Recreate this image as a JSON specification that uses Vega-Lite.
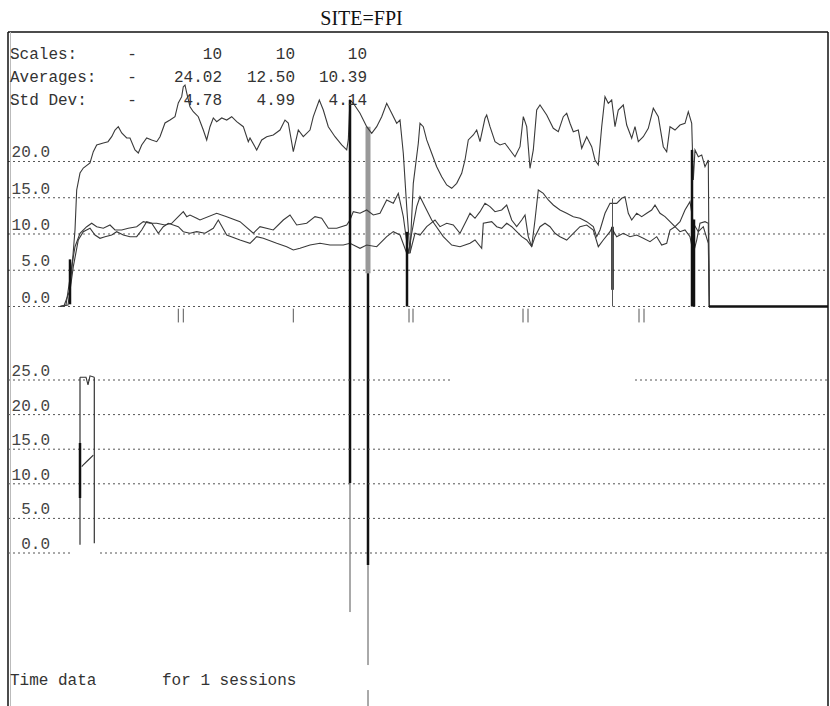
{
  "$schema": "https://vega.github.io/schema/vega-lite/v6.json",
  "width": 820,
  "height": 674,
  "autosize": {"type": "none"},
  "padding": {"left": 8, "top": 32, "right": 2, "bottom": 0},
  "background": "white",
  "config": {"view": {"stroke": null}},
  "datasets": {
    "traces": [
      {"series": "A", "t": 52, "v": 0}, {"series": "A", "t": 56, "v": 0.1}, {"series": "A", "t": 62, "v": 2.28}, {"series": "A", "t": 65, "v": 7.1}, {"series": "A", "t": 67, "v": 10.55}, {"series": "A", "t": 68.7, "v": 16.07}, {"series": "A", "t": 72, "v": 18.41}, {"series": "A", "t": 75.3, "v": 19.1}, {"series": "A", "t": 82, "v": 19.79}, {"series": "A", "t": 85.3, "v": 21.35}, {"series": "A", "t": 88.7, "v": 22.28}, {"series": "A", "t": 95.3, "v": 22.55}, {"series": "A", "t": 100, "v": 22.73}, {"series": "A", "t": 103.7, "v": 23.42}, {"series": "A", "t": 107, "v": 24.34}, {"series": "A", "t": 110.3, "v": 24.8}, {"series": "A", "t": 113.7, "v": 23.93}, {"series": "A", "t": 118.7, "v": 23.24}, {"series": "A", "t": 122, "v": 23.24}, {"series": "A", "t": 127, "v": 21.59}, {"series": "A", "t": 130.3, "v": 21.17}, {"series": "A", "t": 133.7, "v": 22.28}, {"series": "A", "t": 138.7, "v": 23.24}, {"series": "A", "t": 143.7, "v": 22.97}, {"series": "A", "t": 148.7, "v": 22.73}, {"series": "A", "t": 152, "v": 23.42}, {"series": "A", "t": 157, "v": 25.31}, {"series": "A", "t": 162, "v": 25.72}, {"series": "A", "t": 167, "v": 26.18}, {"series": "A", "t": 170.3, "v": 28.07}, {"series": "A", "t": 173.7, "v": 28.94}, {"series": "A", "t": 175.3, "v": 30.32}, {"series": "A", "t": 177, "v": 30.55}, {"series": "A", "t": 178.7, "v": 29.45}, {"series": "A", "t": 182, "v": 27.56}, {"series": "A", "t": 185.3, "v": 26.87}, {"series": "A", "t": 190.3, "v": 26.18}, {"series": "A", "t": 195.3, "v": 24.34}, {"series": "A", "t": 198.7, "v": 22.97}, {"series": "A", "t": 202, "v": 24.8}, {"series": "A", "t": 205.3, "v": 26.0}, {"series": "A", "t": 208.7, "v": 25.49}, {"series": "A", "t": 213.7, "v": 26.0}, {"series": "A", "t": 218.7, "v": 25.72}, {"series": "A", "t": 223.7, "v": 26.18}, {"series": "A", "t": 228.7, "v": 25.49}, {"series": "A", "t": 235.3, "v": 24.8}, {"series": "A", "t": 240.3, "v": 22.73}, {"series": "A", "t": 242, "v": 23.24}, {"series": "A", "t": 248.7, "v": 21.59}, {"series": "A", "t": 253.7, "v": 22.97}, {"series": "A", "t": 258.7, "v": 23.42}, {"series": "A", "t": 265.3, "v": 23.66}, {"series": "A", "t": 272, "v": 24.34}, {"series": "A", "t": 277, "v": 25.72}, {"series": "A", "t": 280.3, "v": 25.31}, {"series": "A", "t": 285.3, "v": 21.35}, {"series": "A", "t": 290.3, "v": 24.34}, {"series": "A", "t": 295.3, "v": 23.42}, {"series": "A", "t": 302, "v": 24.34}, {"series": "A", "t": 305.3, "v": 26.18}, {"series": "A", "t": 311.3, "v": 28.48}, {"series": "A", "t": 315.3, "v": 27.1}, {"series": "A", "t": 320.3, "v": 24.8}, {"series": "A", "t": 327, "v": 23.42}, {"series": "A", "t": 333.7, "v": 22.28}, {"series": "A", "t": 338.7, "v": 21.59}, {"series": "A", "t": 340.3, "v": 22.97}, {"series": "A", "t": 342, "v": 28.48}, {"series": "A", "t": 345.3, "v": 28.03}, {"series": "A", "t": 352, "v": 26.65}, {"series": "A", "t": 358.7, "v": 24.8}, {"series": "A", "t": 363.7, "v": 23.89}, {"series": "A", "t": 368.7, "v": 24.8}, {"series": "A", "t": 373.7, "v": 26.18}, {"series": "A", "t": 378.7, "v": 28.03}, {"series": "A", "t": 383.7, "v": 26.65}, {"series": "A", "t": 388.7, "v": 25.27}, {"series": "A", "t": 392, "v": 25.72}, {"series": "A", "t": 395.3, "v": 21.13}, {"series": "A", "t": 398.7, "v": 13.77}, {"series": "A", "t": 402, "v": 7.38}, {"series": "A", "t": 405.3, "v": 16.99}, {"series": "A", "t": 410.3, "v": 22.51}, {"series": "A", "t": 412, "v": 25.27}, {"series": "A", "t": 415.3, "v": 24.8}, {"series": "A", "t": 418.7, "v": 22.97}, {"series": "A", "t": 423.7, "v": 21.13}, {"series": "A", "t": 428.7, "v": 19.28}, {"series": "A", "t": 433.7, "v": 17.9}, {"series": "A", "t": 438.7, "v": 16.76}, {"series": "A", "t": 443.7, "v": 16.3}, {"series": "A", "t": 448.7, "v": 16.99}, {"series": "A", "t": 453.7, "v": 18.37}, {"series": "A", "t": 457, "v": 20.21}, {"series": "A", "t": 460.3, "v": 22.97}, {"series": "A", "t": 465.3, "v": 23.66}, {"series": "A", "t": 468.7, "v": 24.34}, {"series": "A", "t": 472, "v": 22.73}, {"series": "A", "t": 477, "v": 25.96}, {"series": "A", "t": 478.7, "v": 26.41}, {"series": "A", "t": 482, "v": 24.8}, {"series": "A", "t": 487, "v": 22.73}, {"series": "A", "t": 492, "v": 22.28}, {"series": "A", "t": 497, "v": 22.51}, {"series": "A", "t": 502, "v": 21.59}, {"series": "A", "t": 507, "v": 20.66}, {"series": "A", "t": 512, "v": 22.04}, {"series": "A", "t": 515.3, "v": 26.18}, {"series": "A", "t": 518.7, "v": 24.8}, {"series": "A", "t": 522, "v": 19.06}, {"series": "A", "t": 525.3, "v": 21.59}, {"series": "A", "t": 528.7, "v": 27.1}, {"series": "A", "t": 532, "v": 27.79}, {"series": "A", "t": 538.7, "v": 26.41}, {"series": "A", "t": 545.3, "v": 24.58}, {"series": "A", "t": 550.3, "v": 24.11}, {"series": "A", "t": 555.3, "v": 26.18}, {"series": "A", "t": 558.7, "v": 26.65}, {"series": "A", "t": 562, "v": 25.27}, {"series": "A", "t": 565.3, "v": 24.11}, {"series": "A", "t": 570.3, "v": 24.34}, {"series": "A", "t": 573.7, "v": 21.82}, {"series": "A", "t": 578.7, "v": 23.42}, {"series": "A", "t": 583.7, "v": 22.04}, {"series": "A", "t": 587, "v": 20.21}, {"series": "A", "t": 590.3, "v": 19.52}, {"series": "A", "t": 593.7, "v": 24.8}, {"series": "A", "t": 597, "v": 28.94}, {"series": "A", "t": 600.3, "v": 28.03}, {"series": "A", "t": 603.7, "v": 28.48}, {"series": "A", "t": 607, "v": 24.8}, {"series": "A", "t": 610.3, "v": 27.1}, {"series": "A", "t": 615.3, "v": 27.79}, {"series": "A", "t": 618.7, "v": 25.03}, {"series": "A", "t": 623.7, "v": 23.2}, {"series": "A", "t": 627, "v": 24.8}, {"series": "A", "t": 630.3, "v": 22.73}, {"series": "A", "t": 635.3, "v": 23.42}, {"series": "A", "t": 640.3, "v": 24.58}, {"series": "A", "t": 645.3, "v": 27.34}, {"series": "A", "t": 650.3, "v": 26.18}, {"series": "A", "t": 655.3, "v": 22.04}, {"series": "A", "t": 658.7, "v": 21.35}, {"series": "A", "t": 662, "v": 24.8}, {"series": "A", "t": 667, "v": 24.34}, {"series": "A", "t": 672, "v": 25.03}, {"series": "A", "t": 677, "v": 25.27}, {"series": "A", "t": 680.3, "v": 26.87}, {"series": "A", "t": 683.7, "v": 25.27}, {"series": "A", "t": 685.3, "v": 17.45}, {"series": "A", "t": 687, "v": 21.59}, {"series": "A", "t": 690.3, "v": 20.66}, {"series": "A", "t": 693.7, "v": 20.9}, {"series": "A", "t": 697, "v": 19.28}, {"series": "A", "t": 700.3, "v": 20.21}, {"series": "A", "t": 701.3, "v": 0},
      {"series": "B", "t": 52, "v": 0}, {"series": "B", "t": 58, "v": 0.2}, {"series": "B", "t": 63.7, "v": 5.49}, {"series": "B", "t": 67, "v": 8.25}, {"series": "B", "t": 72, "v": 10.1}, {"series": "B", "t": 78.7, "v": 11.01}, {"series": "B", "t": 83.7, "v": 11.48}, {"series": "B", "t": 88.7, "v": 11.01}, {"series": "B", "t": 95.3, "v": 10.79}, {"series": "B", "t": 102, "v": 11.24}, {"series": "B", "t": 107, "v": 10.55}, {"series": "B", "t": 113.7, "v": 10.55}, {"series": "B", "t": 120.3, "v": 10.79}, {"series": "B", "t": 128.7, "v": 11.01}, {"series": "B", "t": 135.3, "v": 11.7}, {"series": "B", "t": 142, "v": 11.48}, {"series": "B", "t": 148.7, "v": 11.48}, {"series": "B", "t": 157, "v": 11.24}, {"series": "B", "t": 163.7, "v": 11.48}, {"series": "B", "t": 170.3, "v": 12.39}, {"series": "B", "t": 175.3, "v": 13.08}, {"series": "B", "t": 178.7, "v": 12.39}, {"series": "B", "t": 182, "v": 12.62}, {"series": "B", "t": 188.7, "v": 12.17}, {"series": "B", "t": 192, "v": 11.93}, {"series": "B", "t": 208.7, "v": 12.86}, {"series": "B", "t": 218.7, "v": 12.39}, {"series": "B", "t": 232, "v": 11.7}, {"series": "B", "t": 245.3, "v": 10.1}, {"series": "B", "t": 252, "v": 11.01}, {"series": "B", "t": 265.3, "v": 10.55}, {"series": "B", "t": 275.3, "v": 11.93}, {"series": "B", "t": 282, "v": 12.62}, {"series": "B", "t": 288.7, "v": 11.24}, {"series": "B", "t": 298.7, "v": 11.48}, {"series": "B", "t": 307, "v": 12.39}, {"series": "B", "t": 313.7, "v": 12.17}, {"series": "B", "t": 320.3, "v": 10.79}, {"series": "B", "t": 328.7, "v": 10.79}, {"series": "B", "t": 338.7, "v": 11.24}, {"series": "B", "t": 342, "v": 11.93}, {"series": "B", "t": 345.3, "v": 13.08}, {"series": "B", "t": 352, "v": 12.86}, {"series": "B", "t": 358.7, "v": 13.31}, {"series": "B", "t": 365.3, "v": 12.62}, {"series": "B", "t": 372, "v": 12.86}, {"series": "B", "t": 378.7, "v": 14.69}, {"series": "B", "t": 385.3, "v": 14.23}, {"series": "B", "t": 390.3, "v": 15.61}, {"series": "B", "t": 395.3, "v": 12.39}, {"series": "B", "t": 400.3, "v": 7.34}, {"series": "B", "t": 403.7, "v": 10.1}, {"series": "B", "t": 408.7, "v": 13.77}, {"series": "B", "t": 412, "v": 15.14}, {"series": "B", "t": 417, "v": 13.77}, {"series": "B", "t": 423.7, "v": 11.93}, {"series": "B", "t": 435.3, "v": 9.63}, {"series": "B", "t": 443.7, "v": 8.48}, {"series": "B", "t": 452, "v": 8.25}, {"series": "B", "t": 462, "v": 8.72}, {"series": "B", "t": 467, "v": 9.17}, {"series": "B", "t": 473.7, "v": 8.03}, {"series": "B", "t": 475.3, "v": 11.48}, {"series": "B", "t": 483.7, "v": 11.7}, {"series": "B", "t": 488.7, "v": 11.01}, {"series": "B", "t": 493.7, "v": 10.79}, {"series": "B", "t": 498.7, "v": 11.48}, {"series": "B", "t": 503.7, "v": 11.01}, {"series": "B", "t": 508.7, "v": 10.32}, {"series": "B", "t": 513.7, "v": 9.63}, {"series": "B", "t": 518.7, "v": 9.17}, {"series": "B", "t": 523.7, "v": 8.25}, {"series": "B", "t": 527, "v": 9.63}, {"series": "B", "t": 532, "v": 11.01}, {"series": "B", "t": 537, "v": 11.48}, {"series": "B", "t": 542, "v": 11.01}, {"series": "B", "t": 547, "v": 10.1}, {"series": "B", "t": 552, "v": 9.63}, {"series": "B", "t": 558.7, "v": 9.17}, {"series": "B", "t": 565.3, "v": 10.1}, {"series": "B", "t": 572, "v": 11.01}, {"series": "B", "t": 578.7, "v": 11.24}, {"series": "B", "t": 585.3, "v": 10.55}, {"series": "B", "t": 590.3, "v": 8.25}, {"series": "B", "t": 595.3, "v": 9.17}, {"series": "B", "t": 602, "v": 10.32}, {"series": "B", "t": 603.7, "v": 10.79}, {"series": "B", "t": 608.7, "v": 9.63}, {"series": "B", "t": 615.3, "v": 10.1}, {"series": "B", "t": 622, "v": 9.63}, {"series": "B", "t": 628.7, "v": 9.86}, {"series": "B", "t": 635.3, "v": 9.41}, {"series": "B", "t": 642, "v": 8.94}, {"series": "B", "t": 648.7, "v": 9.63}, {"series": "B", "t": 653.7, "v": 8.48}, {"series": "B", "t": 658.7, "v": 8.72}, {"series": "B", "t": 662, "v": 10.55}, {"series": "B", "t": 667, "v": 11.01}, {"series": "B", "t": 672, "v": 10.32}, {"series": "B", "t": 677, "v": 10.55}, {"series": "B", "t": 682, "v": 9.63}, {"series": "B", "t": 685.3, "v": 7.34}, {"series": "B", "t": 688.7, "v": 9.17}, {"series": "B", "t": 692, "v": 11.48}, {"series": "B", "t": 697, "v": 11.7}, {"series": "B", "t": 700.3, "v": 11.48}, {"series": "B", "t": 701.3, "v": 0},
      {"series": "C", "t": 52, "v": 0}, {"series": "C", "t": 60, "v": 0.2}, {"series": "C", "t": 65.3, "v": 5.49}, {"series": "C", "t": 70.3, "v": 9.17}, {"series": "C", "t": 75.3, "v": 10.32}, {"series": "C", "t": 82, "v": 10.79}, {"series": "C", "t": 87, "v": 9.86}, {"series": "C", "t": 92, "v": 9.41}, {"series": "C", "t": 97, "v": 9.63}, {"series": "C", "t": 103.7, "v": 9.86}, {"series": "C", "t": 108.7, "v": 10.32}, {"series": "C", "t": 115.3, "v": 9.86}, {"series": "C", "t": 122, "v": 9.63}, {"series": "C", "t": 128.7, "v": 9.63}, {"series": "C", "t": 133.7, "v": 10.55}, {"series": "C", "t": 138.7, "v": 11.7}, {"series": "C", "t": 143.7, "v": 11.48}, {"series": "C", "t": 150.3, "v": 10.1}, {"series": "C", "t": 155.3, "v": 11.01}, {"series": "C", "t": 160.3, "v": 11.48}, {"series": "C", "t": 165.3, "v": 11.24}, {"series": "C", "t": 170.3, "v": 11.01}, {"series": "C", "t": 175.3, "v": 10.32}, {"series": "C", "t": 182, "v": 10.1}, {"series": "C", "t": 188.7, "v": 10.32}, {"series": "C", "t": 197, "v": 10.1}, {"series": "C", "t": 205.3, "v": 10.79}, {"series": "C", "t": 210.3, "v": 11.93}, {"series": "C", "t": 218.7, "v": 9.86}, {"series": "C", "t": 232, "v": 9.17}, {"series": "C", "t": 242, "v": 8.72}, {"series": "C", "t": 248.7, "v": 9.63}, {"series": "C", "t": 255.3, "v": 9.41}, {"series": "C", "t": 268.7, "v": 8.72}, {"series": "C", "t": 278.7, "v": 8.25}, {"series": "C", "t": 285.3, "v": 7.79}, {"series": "C", "t": 292, "v": 8.03}, {"series": "C", "t": 302, "v": 8.48}, {"series": "C", "t": 312, "v": 8.72}, {"series": "C", "t": 322, "v": 8.48}, {"series": "C", "t": 335.3, "v": 8.48}, {"series": "C", "t": 342, "v": 8.72}, {"series": "C", "t": 352, "v": 8.03}, {"series": "C", "t": 358.7, "v": 8.48}, {"series": "C", "t": 368.7, "v": 8.25}, {"series": "C", "t": 378.7, "v": 9.63}, {"series": "C", "t": 385.3, "v": 10.32}, {"series": "C", "t": 392, "v": 9.86}, {"series": "C", "t": 398.7, "v": 7.34}, {"series": "C", "t": 402, "v": 7.38}, {"series": "C", "t": 407, "v": 10.1}, {"series": "C", "t": 412, "v": 9.86}, {"series": "C", "t": 418.7, "v": 11.01}, {"series": "C", "t": 427, "v": 11.93}, {"series": "C", "t": 432, "v": 11.01}, {"series": "C", "t": 438.7, "v": 11.48}, {"series": "C", "t": 445.3, "v": 11.24}, {"series": "C", "t": 452, "v": 10.1}, {"series": "C", "t": 458.7, "v": 11.93}, {"series": "C", "t": 462, "v": 12.86}, {"series": "C", "t": 467, "v": 12.17}, {"series": "C", "t": 472, "v": 13.08}, {"series": "C", "t": 477, "v": 14.23}, {"series": "C", "t": 482, "v": 13.77}, {"series": "C", "t": 487, "v": 13.08}, {"series": "C", "t": 493.7, "v": 13.31}, {"series": "C", "t": 498.7, "v": 14.0}, {"series": "C", "t": 503.7, "v": 11.93}, {"series": "C", "t": 508.7, "v": 11.01}, {"series": "C", "t": 513.7, "v": 11.93}, {"series": "C", "t": 517, "v": 12.62}, {"series": "C", "t": 520.3, "v": 9.63}, {"series": "C", "t": 523.7, "v": 8.25}, {"series": "C", "t": 527, "v": 11.93}, {"series": "C", "t": 530.3, "v": 16.07}, {"series": "C", "t": 535.3, "v": 15.61}, {"series": "C", "t": 540.3, "v": 14.69}, {"series": "C", "t": 545.3, "v": 14.0}, {"series": "C", "t": 552, "v": 13.31}, {"series": "C", "t": 558.7, "v": 12.86}, {"series": "C", "t": 565.3, "v": 12.39}, {"series": "C", "t": 572, "v": 12.17}, {"series": "C", "t": 578.7, "v": 11.7}, {"series": "C", "t": 585.3, "v": 11.01}, {"series": "C", "t": 588.7, "v": 9.63}, {"series": "C", "t": 592, "v": 10.55}, {"series": "C", "t": 597, "v": 12.86}, {"series": "C", "t": 602, "v": 14.23}, {"series": "C", "t": 608.7, "v": 14.23}, {"series": "C", "t": 613.7, "v": 14.92}, {"series": "C", "t": 617, "v": 15.14}, {"series": "C", "t": 620.3, "v": 12.86}, {"series": "C", "t": 623.7, "v": 11.93}, {"series": "C", "t": 628.7, "v": 12.86}, {"series": "C", "t": 633.7, "v": 12.39}, {"series": "C", "t": 638.7, "v": 12.86}, {"series": "C", "t": 643.7, "v": 13.31}, {"series": "C", "t": 647, "v": 14.0}, {"series": "C", "t": 652, "v": 12.86}, {"series": "C", "t": 657, "v": 12.39}, {"series": "C", "t": 662, "v": 11.7}, {"series": "C", "t": 667, "v": 11.01}, {"series": "C", "t": 672, "v": 11.7}, {"series": "C", "t": 677, "v": 13.31}, {"series": "C", "t": 682, "v": 14.46}, {"series": "C", "t": 685.3, "v": 11.48}, {"series": "C", "t": 690.3, "v": 10.32}, {"series": "C", "t": 695.3, "v": 11.01}, {"series": "C", "t": 700.3, "v": 8.72}, {"series": "C", "t": 701.3, "v": 0}
    ],
    "flat": [{"t": 701, "v": 0}, {"t": 820, "v": 0}],
    "frame_v": [
      {"t": 0, "v": -55.1, "v2": 37.86},
      {"t": 820, "v": -55.1, "v2": 37.86}
    ],
    "frame_inner": [{"t": 2.5, "v": -55.1, "v2": 37.86}],
    "frame_h": [{"v": 37.86, "t": 0, "t2": 820}],
    "heavy_spikes": [
      {"t": 62, "v": 0.3, "v2": 6.5},
      {"t": 342, "v": 28.48, "v2": -24.34},
      {"t": 360, "v": 4.6, "v2": -35.66},
      {"t": 399, "v": 0, "v2": 10.3},
      {"t": 604.5, "v": 2.3, "v2": 11.0},
      {"t": 684, "v": 0, "v2": 21.6},
      {"t": 686, "v": 0, "v2": 12.0}
    ],
    "thin_spikes": [
      {"t": 342, "v": -24.34, "v2": -42.14},
      {"t": 360, "v": -35.66, "v2": -49.45},
      {"t": 360, "v": -52.9, "v2": -55.1},
      {"t": 604.5, "v": 0, "v2": 14.9},
      {"t": 170.3, "v": -0.3, "v2": -2.2},
      {"t": 175.3, "v": -0.3, "v2": -2.2},
      {"t": 285.3, "v": -0.3, "v2": -2.2},
      {"t": 401, "v": -0.3, "v2": -2.2},
      {"t": 405, "v": -0.3, "v2": -2.2},
      {"t": 515, "v": -0.3, "v2": -2.2},
      {"t": 520, "v": -0.3, "v2": -2.2},
      {"t": 631, "v": -0.3, "v2": -2.2},
      {"t": 636, "v": -0.3, "v2": -2.2}
    ],
    "band_spikes": [{"t": 360, "v": 4.6, "v2": 24.8}],
    "upper_grid": [
      {"v": 0, "t": 0, "t2": 820},
      {"v": 5, "t": 0, "t2": 820},
      {"v": 10, "t": 0, "t2": 820},
      {"v": 15, "t": 0, "t2": 820},
      {"v": 20, "t": 0, "t2": 820}
    ],
    "upper_labels": [
      {"v": 0, "t": 42, "label": "0.0"}, {"v": 5, "t": 42, "label": "5.0"}, {"v": 10, "t": 42, "label": "10.0"},
      {"v": 15, "t": 42, "label": "15.0"}, {"v": 20, "t": 42, "label": "20.0"}
    ],
    "lower_grid": [
      {"v": 0, "t": 0, "t2": 64},
      {"v": 0, "t": 92, "t2": 820},
      {"v": 5, "t": 0, "t2": 820},
      {"v": 10, "t": 0, "t2": 820},
      {"v": 15, "t": 0, "t2": 820},
      {"v": 20, "t": 0, "t2": 820},
      {"v": 25, "t": 0, "t2": 442},
      {"v": 25, "t": 627, "t2": 820}
    ],
    "lower_labels": [
      {"v": 0, "t": 42, "label": "0.0"}, {"v": 5, "t": 42, "label": "5.0"}, {"v": 10, "t": 42, "label": "10.0"},
      {"v": 15, "t": 42, "label": "15.0"}, {"v": 20, "t": 42, "label": "20.0"}, {"v": 25, "t": 42, "label": "25.0"}
    ],
    "lower_thin": [
      {"t": 72, "v": 1.2, "v2": 25.4},
      {"t": 86.3, "v": 1.4, "v2": 25.4}
    ],
    "lower_thick": [{"t": 72, "v": 7.95, "v2": 15.9}],
    "lower_traces": [
      {"series": "top", "t": 72, "v": 25.4}, {"series": "top", "t": 78, "v": 25.4}, {"series": "top", "t": 80, "v": 24.3}, {"series": "top", "t": 82, "v": 25.6}, {"series": "top", "t": 86.3, "v": 25.4},
      {"series": "diag", "t": 73.7, "v": 12.47}, {"series": "diag", "t": 75.3, "v": 12.72}, {"series": "diag", "t": 80.3, "v": 13.44}, {"series": "diag", "t": 85.3, "v": 14.16}
    ],
    "row_labels": [
      {"text": "Scales:", "t": 2, "v": 34.14},
      {"text": "Averages:", "t": 2, "v": 30.97},
      {"text": "Std Dev:", "t": 2, "v": 27.79},
      {"text": "Time data", "t": 2, "v": -52.21},
      {"text": "for 1 sessions", "t": 154, "v": -52.21}
    ],
    "dashes": [
      {"text": "-", "t": 124, "v": 34.14},
      {"text": "-", "t": 124, "v": 30.97},
      {"text": "-", "t": 124, "v": 27.79}
    ],
    "stats": [
      {"text": "10", "t": 214, "v": 34.14}, {"text": "10", "t": 287, "v": 34.14}, {"text": "10", "t": 359, "v": 34.14},
      {"text": "24.02", "t": 214, "v": 30.97}, {"text": "12.50", "t": 287, "v": 30.97}, {"text": "10.39", "t": 359, "v": 30.97},
      {"text": "4.78", "t": 214, "v": 27.79}, {"text": "4.99", "t": 287, "v": 27.79}, {"text": "4.14", "t": 359, "v": 27.79}
    ],
    "title": [{"text": "SITE=FPI", "t": 353.5, "v": 38.83}]
  },
  "resolve": {"scale": {"y": "independent"}},
  "layer": [
    {
      "encoding": {
        "x": {"field": "t", "type": "quantitative", "scale": {"domain": [0, 820], "nice": false, "zero": false}, "axis": null},
        "y": {"field": "v", "type": "quantitative", "scale": {"domain": [-55.1, 37.86], "nice": false, "zero": false}, "axis": null}
      },
      "layer": [
        {"data": {"name": "upper_grid"}, "mark": {"type": "rule", "stroke": "#555", "strokeWidth": 1, "strokeDash": [2, 3]}, "encoding": {"x2": {"field": "t2"}}},
        {"data": {"name": "upper_labels"}, "mark": {"type": "text", "font": "Liberation Mono", "fontSize": 16, "align": "right", "baseline": "alphabetic", "dy": -4, "color": "#444"}, "encoding": {"text": {"field": "label"}}},
        {"data": {"name": "frame_h"}, "mark": {"type": "rule", "stroke": "#111", "strokeWidth": 1.5}, "encoding": {"x2": {"field": "t2"}}},
        {"data": {"name": "frame_v"}, "mark": {"type": "rule", "stroke": "#111", "strokeWidth": 1.5}, "encoding": {"y2": {"field": "v2"}}},
        {"data": {"name": "frame_inner"}, "mark": {"type": "rule", "stroke": "#bbb", "strokeWidth": 1}, "encoding": {"y2": {"field": "v2"}}},
        {"data": {"name": "band_spikes"}, "mark": {"type": "rule", "stroke": "#999", "strokeWidth": 5}, "encoding": {"y2": {"field": "v2"}}},
        {"data": {"name": "traces"}, "mark": {"type": "line", "stroke": "#3a3a3a", "strokeWidth": 1.1}, "encoding": {"detail": {"field": "series"}}},
        {"data": {"name": "flat"}, "mark": {"type": "line", "stroke": "#111", "strokeWidth": 2.5}, "encoding": {}},
        {"data": {"name": "heavy_spikes"}, "mark": {"type": "rule", "stroke": "#111", "strokeWidth": 2.5}, "encoding": {"y2": {"field": "v2"}}},
        {"data": {"name": "thin_spikes"}, "mark": {"type": "rule", "stroke": "#555", "strokeWidth": 1}, "encoding": {"y2": {"field": "v2"}}},
        {"data": {"name": "row_labels"}, "mark": {"type": "text", "font": "Liberation Mono", "fontSize": 16, "align": "left", "baseline": "alphabetic", "color": "#333"}, "encoding": {"text": {"field": "text"}}},
        {"data": {"name": "dashes"}, "mark": {"type": "text", "font": "Liberation Mono", "fontSize": 16, "align": "center", "baseline": "alphabetic", "color": "#333"}, "encoding": {"text": {"field": "text"}}},
        {"data": {"name": "stats"}, "mark": {"type": "text", "font": "Liberation Mono", "fontSize": 16, "align": "right", "baseline": "alphabetic", "color": "#333"}, "encoding": {"text": {"field": "text"}}},
        {"data": {"name": "title"}, "mark": {"type": "text", "font": "Liberation Serif", "fontSize": 20, "align": "center", "baseline": "alphabetic", "color": "#111"}, "encoding": {"text": {"field": "text"}}}
      ]
    },
    {
      "encoding": {
        "x": {"field": "t", "type": "quantitative", "scale": {"domain": [0, 820], "nice": false, "zero": false}, "axis": null},
        "y": {"field": "v", "type": "quantitative", "scale": {"domain": [-22.11, 75.29], "nice": false, "zero": false}, "axis": null}
      },
      "layer": [
        {"data": {"name": "lower_grid"}, "mark": {"type": "rule", "stroke": "#555", "strokeWidth": 1, "strokeDash": [2, 3]}, "encoding": {"x2": {"field": "t2"}}},
        {"data": {"name": "lower_labels"}, "mark": {"type": "text", "font": "Liberation Mono", "fontSize": 16, "align": "right", "baseline": "alphabetic", "dy": -4, "color": "#444"}, "encoding": {"text": {"field": "label"}}},
        {"data": {"name": "lower_thin"}, "mark": {"type": "rule", "stroke": "#333", "strokeWidth": 1.2}, "encoding": {"y2": {"field": "v2"}}},
        {"data": {"name": "lower_thick"}, "mark": {"type": "rule", "stroke": "#111", "strokeWidth": 2.5}, "encoding": {"y2": {"field": "v2"}}},
        {"data": {"name": "lower_traces"}, "mark": {"type": "line", "stroke": "#333", "strokeWidth": 1.1}, "encoding": {"detail": {"field": "series"}}}
      ]
    }
  ]
}
